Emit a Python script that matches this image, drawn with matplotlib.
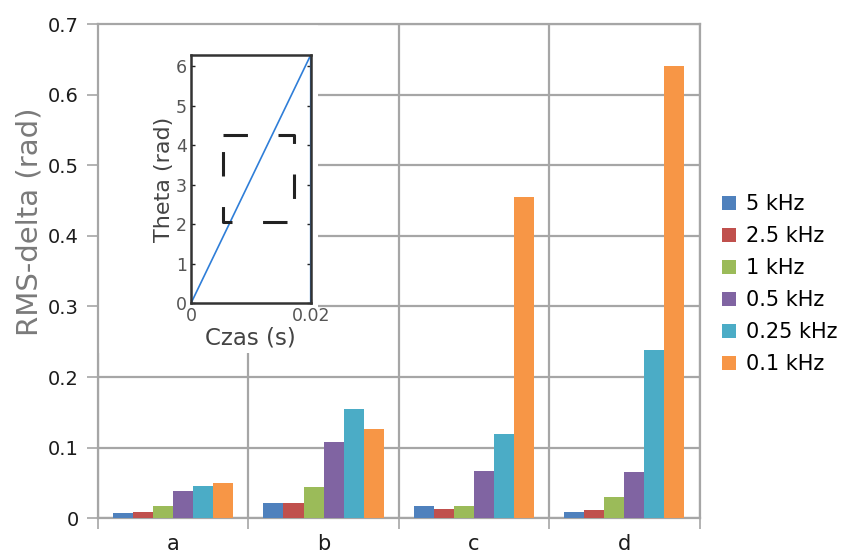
import numpy as np
import matplotlib
matplotlib.use("Agg")
import matplotlib.pyplot as plt
from matplotlib.patches import Rectangle

# data
groups = ["a", "b", "c", "d"]
series = ["5 kHz", "2.5 kHz", "1 kHz", "0.5 kHz", "0.25 kHz", "0.1 kHz"]
colors = ["#4F81BD", "#C0504D", "#9BBB59", "#8064A2", "#4BACC6", "#F79646"]

val_5k = [0.007, 0.021, 0.017, 0.0085]
val_2_5k = [0.009, 0.022, 0.0125, 0.0115]
val_1k = [0.017, 0.045, 0.0168, 0.0297]
val_0_5k = [0.039, 0.108, 0.0665, 0.065]
val_0_25k = [0.0455, 0.155, 0.12, 0.238]
val_0_1k = [0.0505, 0.127, 0.455, 0.640]
values = [val_5k, val_2_5k, val_1k, val_0_5k, val_0_25k, val_0_1k]

# inset: sawtooth phase over one period
inset_t = [0, 0.02, 0.02]
inset_theta = [0, 6.283, 0]
box_x = [0.0053, 0.0172]
box_y = [2.06, 4.26]

grid_col = "#a6a6a6"
text_col = "#1c1c1c"

fig = plt.figure(figsize=(8.42, 5.53), dpi=100)
ax = fig.add_axes([0.1164, 0.0627, 0.7144, 0.8939])

x = np.arange(len(groups))
n = len(series)
width = 0.8 / n
for i in range(n):
    ax.bar(x - 0.4 + width * (i + 0.5), values[i], width, color=colors[i],
           label=series[i], zorder=3, edgecolor="none")

ax.set_xlim(-0.5, len(groups) - 0.5)
ax.set_ylim(0, 0.7)
ax.set_yticks(np.arange(0, 0.71, 0.1))
ax.set_yticklabels(["0", "0.1", "0.2", "0.3", "0.4", "0.5", "0.6", "0.7"])
ax.set_xticks(np.arange(-0.5, len(groups), 1.0))
ax.set_xticklabels([])
ax.set_xticks(x, minor=True)
ax.set_xticklabels(groups, minor=True)

ax.set_axisbelow(True)
ax.grid(True, which="major", color=grid_col, lw=1.6)
for s in ax.spines.values():
    s.set_color(grid_col)
    s.set_linewidth(1.6)

ax.tick_params(axis="both", which="major", length=8, width=1.2, color=grid_col,
               labelsize=14, labelcolor=text_col)
ax.tick_params(axis="x", which="minor", length=0, labelsize=15, labelcolor=text_col, pad=11)
ax.tick_params(axis="y", pad=6)

ax.set_ylabel("RMS-delta (rad)", fontsize=21, color="#7a7a7a")
ax.yaxis.set_label_coords(-0.09, 0.6)

# white area behind the inset hides the gridlines
ax.add_patch(Rectangle((0, 0.335), 0.366, 0.665, transform=ax.transAxes,
                       facecolor="white", edgecolor="none", zorder=1))

fig.legend(loc="center left", bbox_to_anchor=(0.858, 0.486), frameon=False,
           fontsize=15, handlelength=0.65, handleheight=0.65, handletextpad=0.5,
           labelspacing=0.58, borderaxespad=0, borderpad=0)

# inset
axi = fig.add_axes([0.2268, 0.4515, 0.1422, 0.449])
axi.plot(inset_t, inset_theta, color="#2f7ed8", lw=1.2)
axi.plot([box_x[0], box_x[1], box_x[1], box_x[0], box_x[0]],
         [box_y[1], box_y[1], box_y[0], box_y[0], box_y[1]],
         color="#222222", lw=2.2, linestyle=(0, (8, 10)))
axi.set_xlim(0, 0.02)
axi.set_ylim(0, 6.283)
axi.set_xticks([0, 0.02])
axi.set_xticklabels(["0", "0.02"])
axi.set_yticks(range(7))
axi.tick_params(direction="in", length=3, width=1, right=True, labelsize=12.5,
                labelcolor="#555555", color="#222222", pad=3)
for s in axi.spines.values():
    s.set_color("#333333")
    s.set_linewidth(1.8)
axi.set_xlabel("Czas (s)", fontsize=16.5, color="#444444", labelpad=1)
axi.set_ylabel("Theta (rad)", fontsize=16, color="#444444", labelpad=1)

fig.savefig("out.png", dpi=100)
